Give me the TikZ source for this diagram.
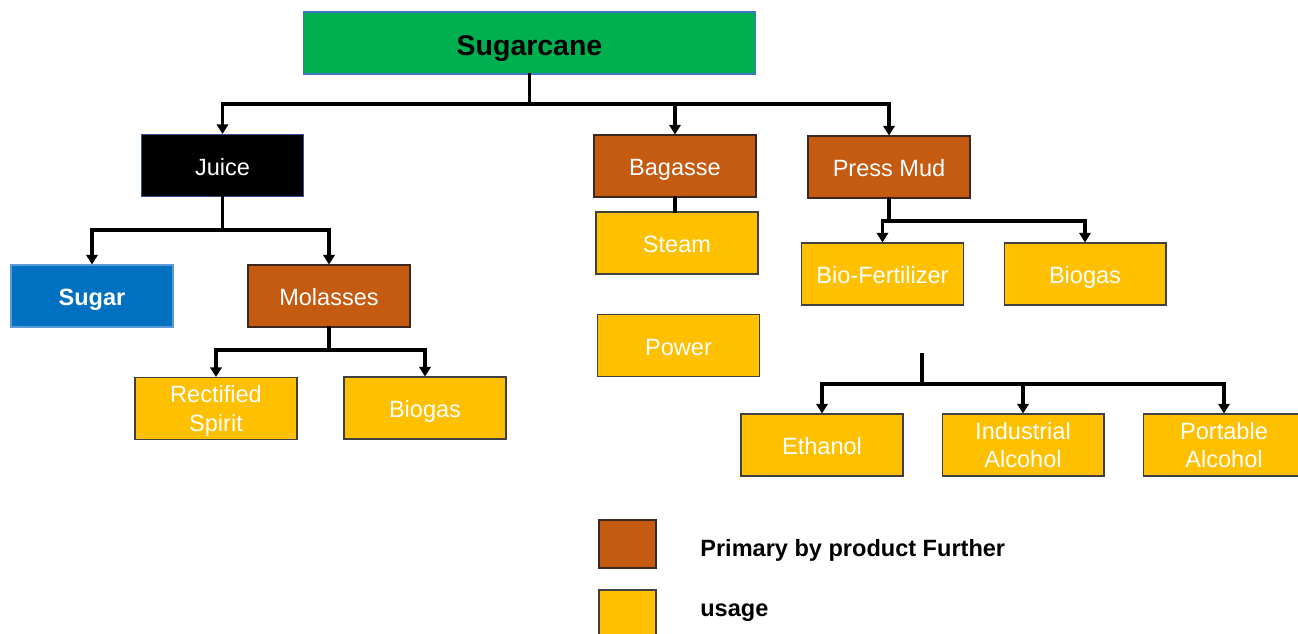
\documentclass[tikz,border=0pt]{standalone}
\usepackage{fontspec}
\setmainfont{Liberation Sans}
\usepackage{tikz}
\usetikzlibrary{arrows.meta, positioning, calc}
\tikzset{
	every text node part/.style = {align=center},
	box/.style = {rectangle, inner sep=0pt, minimum width=3.24cm, minimum height=1.24cm, line width=0.6pt, text=white, text height=1.1em, text depth=0pt, font=\fontsize{13.4}{16}\selectfont},
	twoline/.style = {text height=, text depth=-3pt},
	canebox/.style = {box, fill={rgb,255:red,0; green,176; blue,80}, draw={rgb,255:red,68; green,114; blue,196}, minimum width=9.06cm, text=black, text height=1.4em, font=\fontsize{16.2}{19}\selectfont\bfseries},
	juicebox/.style = {box, fill=black, draw={rgb,255:red,47; green,82; blue,143}},
	sugarbox/.style = {box, fill={rgb,255:red,0; green,112; blue,192}, draw={rgb,255:red,91; green,155; blue,213}, font=\fontsize{13.4}{16}\selectfont\bfseries},
	primbox/.style = {box, fill={rgb,255:red,197; green,90; blue,17}, draw={rgb,255:red,60; green,40; blue,30}},
	usebox/.style = {box, fill={rgb,255:red,255; green,192; blue,0}, draw={rgb,255:red,64; green,64; blue,64}},
	link/.style = {line width=2pt, line cap=rect},
	flow/.style = {link, -{Triangle[length=5.5pt, width=6.5pt]}}
}

\begin{document}
\begin{tikzpicture}[x=0.02cm, y=-0.02cm]
	
	\useasboundingbox (0,0) rectangle (1298,634);
	
	% boxes
	\node [canebox] (cane) at (529.5,43) {Sugarcane};
	\node [juicebox] (juice) at (222.5,165.5) {Juice};
	\node [primbox] (bagasse) at (675,166) {Bagasse};
	\node [primbox] (pressmud) at (889,167) {Press Mud};
	\node [sugarbox] (sugar) at (92,296) {Sugar};
	\node [primbox] (molasses) at (329,296) {Molasses};
	\node [usebox] (steam) at (677,243) {Steam};
	\node [usebox] (biofert) at (882.5,274) {Bio-Fertilizer};
	\node [usebox] (biogasR) at (1085,274) {Biogas};
	\node [usebox] (power) at (678.5,345.5) {Power};
	\node [usebox, twoline] (spirit) at (216,408.5) {Rectified\\Spirit};
	\node [usebox] (biogasL) at (425,408) {Biogas};
	\node [usebox] (ethanol) at (822,445) {Ethanol};
	\node [usebox, twoline] (indalc) at (1023,445) {Industrial\\Alcohol};
	\node [usebox, twoline] (portalc) at (1224,445) {Portable\\Alcohol};
	
	% connectors
	\coordinate (caneJ) at (529.5,104);
	\draw [link] (cane.south) -- (caneJ);
	\draw [flow] (caneJ) -| (juice.north);
	\draw [flow] (caneJ) -| (bagasse.north);
	\draw [flow] (caneJ) -| (pressmud.north);
	
	\coordinate (juiceJ) at (222.5,230);
	\draw [link] (juice.south) -- (juiceJ);
	\draw [flow] (juiceJ) -| (sugar.north);
	\draw [flow] (juiceJ) -| (molasses.north);
	
	\draw [link] (bagasse.south) -- (bagasse.south |- steam.north);
	
	\coordinate (mudJ) at (889,221);
	\draw [link] (pressmud.south) -- (mudJ);
	\draw [flow] (mudJ) -| (biofert.north);
	\draw [flow] (mudJ) -| (biogasR.north);
	
	\coordinate (molJ) at (329,350);
	\draw [link] (molasses.south) -- (molJ);
	\draw [flow] (molJ) -| (spirit.north);
	\draw [flow] (molJ) -| (biogasL.north);
	
	\coordinate (alcTop) at (922,355);
	\coordinate (alcJ) at (922,384);
	\draw [link] (alcTop) -- (alcJ);
	\draw [flow] (alcJ) -| (ethanol.north);
	\draw [flow] (alcJ) -| (indalc.north);
	\draw [flow] (alcJ) -| (portalc.north);
	
	% legend
	\node [primbox, minimum width=1.14cm, minimum height=0.96cm] (legPrim) at (627.5,544) {};
	\node [usebox, minimum width=1.14cm, minimum height=0.96cm] (legUse) at (627.5,614) {};
	\node [anchor=base west, inner sep=0pt, font=\fontsize{13.4}{16}\selectfont\bfseries] (legPrimText) at (700,557) {Primary by product Further};
	\node [anchor=base west, inner sep=0pt, font=\fontsize{13.4}{16}\selectfont\bfseries] (legUseText) at (700,616) {usage};
\end{tikzpicture}
\end{document}
